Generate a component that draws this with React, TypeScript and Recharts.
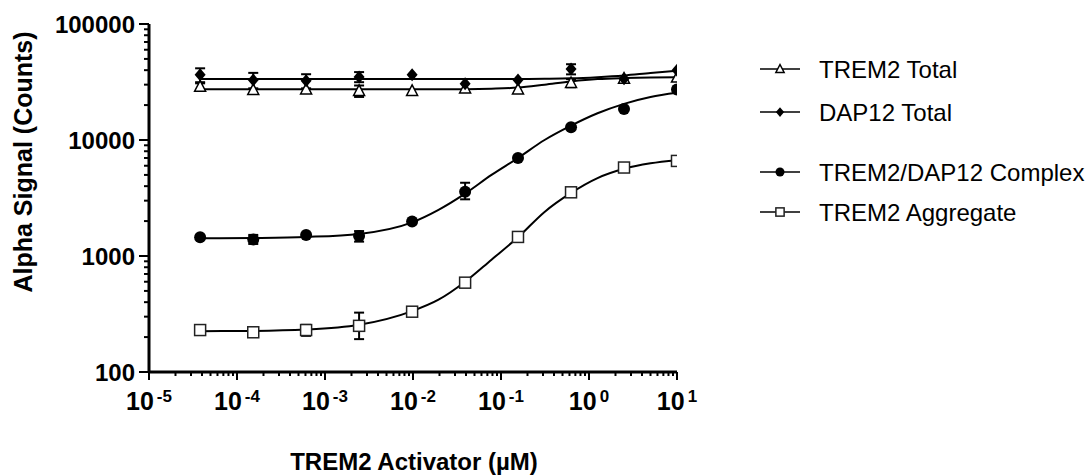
import React from 'react';
import { ComposedChart, Line, Scatter, XAxis, YAxis, ErrorBar, Label } from 'recharts';

// concentrations (µM), 4-fold dilution series
const conc = [0.0000381, 0.000153, 0.00061, 0.00244, 0.00977, 0.0391, 0.156, 0.625, 2.5, 10];

// measured points
const trem2Total = [28800, 27000, 27300, 26500, 26500, 27800, 27300, 31000, 33800, 34500];
const dap12Total = [36500, 32900, 32400, 35000, 36500, 30600, 32900, 40900, 33800, 40000];
const complex = [1450, 1390, 1520, 1490, 1980, 3580, 7000, 12900, 18500, 27300];
const aggregate = [230, 220, 230, 250, 331, 589, 1460, 3540, 5790, 6600];

// error bars [minus, plus], null = hidden behind marker
const trem2TotalErr: (number[] | null)[] = [[2000, 2000], null, null, [3000, 3000], null, null, null, [2500, 2500], null, null];
const dap12TotalErr: (number[] | null)[] = [[5000, 5000], [5000, 5000], [4500, 4500], [3500, 3500], null, null, null, [4100, 4100], null, null];
const complexErr: (number[] | null)[] = [null, [120, 130], null, [160, 150], null, [500, 700], null, null, null, null];
const aggregateErr: (number[] | null)[] = [null, null, [25, 25], [58, 75], null, null, null, null, null, null];

// fitted curves
const fitConc = [0.0000381, 0.000153, 0.00061, 0.00244, 0.00977, 0.0195, 0.0391, 0.078, 0.156, 0.3125, 0.625, 1.25, 2.5, 5, 10];
const trem2TotalFit = [27400, 27400, 27400, 27400, 27400, 27400, 27450, 27700, 28300, 30000, 32000, 33500, 34200, 34600, 34800];
const dap12TotalFit = [33500, 33500, 33500, 33500, 33500, 33500, 33500, 33500, 33550, 33700, 34000, 34800, 36000, 37800, 39500];
const complexFit = [1420, 1430, 1460, 1550, 1950, 2500, 3450, 5000, 7000, 10000, 13300, 17000, 20500, 23500, 25500];
const aggregateFit = [225, 226, 232, 255, 335, 420, 600, 930, 1450, 2400, 3500, 4700, 5650, 6300, 6700];

const xMajor = [1e-5, 1e-4, 1e-3, 1e-2, 1e-1, 1, 10];
const yMajor = [100, 1000, 10000, 100000];
const minorSteps = [2, 3, 4, 5, 6, 7, 8, 9];

const xTicks = [...xMajor, ...xMajor.slice(0, -1).flatMap((d) => minorSteps.map((m) => d * m))];
const yTicks = [...yMajor, ...yMajor.slice(0, -1).flatMap((d) => minorSteps.map((m) => d * m))];

const FONT = '"Liberation Sans", Arial, Helvetica, sans-serif';

const toPoints = (xs: number[], ys: number[], errs?: (number[] | null)[]) =>
  xs.map((x, i) => ({ x, y: ys[i], err: errs ? errs[i] : null }));

const isMajor = (v: number) => Math.abs(Math.log10(v) - Math.round(Math.log10(v))) < 1e-6;

const XTick = (props: any) => {
  const { x, y, payload } = props;
  const v = payload.value;
  const major = isMajor(v);
  return (
    <g>
      <line x1={x} x2={x} y1={y} y2={y + (major ? 8 : 4)} stroke="#000" strokeWidth={2} />
      {major && (
        <text x={x} y={y + 38} textAnchor="middle" fontFamily={FONT} fontWeight="bold" fontSize={25} fill="#000">
          10
          <tspan dx={3} dy={-8} fontSize={17}>{Math.round(Math.log10(v))}</tspan>
        </text>
      )}
    </g>
  );
};

const YTick = (props: any) => {
  const { x, y, payload } = props;
  const v = payload.value;
  const major = isMajor(v);
  return (
    <g>
      <line x1={x - (major ? 10 : 5)} x2={x} y1={y} y2={y} stroke="#000" strokeWidth={2} />
      {major && (
        <text x={x - 14} y={y} dy="0.36em" textAnchor="end" fontFamily={FONT} fontWeight="bold" fontSize={24} fill="#000">
          {v}
        </text>
      )}
    </g>
  );
};

const Triangle = ({ cx, cy, s = 1 }: any) => (
  <path
    d={`M${cx},${cy - 6 * s} L${cx + 5.5 * s},${cy + 4.5 * s} L${cx - 5.5 * s},${cy + 4.5 * s} Z`}
    fill="#fff"
    stroke="#000"
    strokeWidth={1.5}
  />
);
const Diamond = ({ cx, cy, s = 1 }: any) => (
  <path d={`M${cx},${cy - 6.5 * s} L${cx + 5.5 * s},${cy} L${cx},${cy + 6.5 * s} L${cx - 5.5 * s},${cy} Z`} fill="#000" />
);
const Dot = ({ cx, cy, s = 1 }: any) => <circle cx={cx} cy={cy} r={6 * s} fill="#000" />;
const Square = ({ cx, cy, s = 1 }: any) => (
  <rect x={cx - 5.5 * s} y={cy - 5.5 * s} width={11 * s} height={11 * s} fill="#fff" stroke="#222" strokeWidth={1.5} />
);

const series = [
  { name: 'TREM2 Total', pts: toPoints(conc, trem2Total, trem2TotalErr), fit: toPoints(fitConc, trem2TotalFit), Shape: Triangle, ly: 69 },
  { name: 'DAP12 Total', pts: toPoints(conc, dap12Total, dap12TotalErr), fit: toPoints(fitConc, dap12TotalFit), Shape: Diamond, ly: 112 },
  { name: 'TREM2/DAP12 Complex', pts: toPoints(conc, complex, complexErr), fit: toPoints(fitConc, complexFit), Shape: Dot, ly: 172 },
  { name: 'TREM2 Aggregate', pts: toPoints(conc, aggregate, aggregateErr), fit: toPoints(fitConc, aggregateFit), Shape: Square, ly: 212 },
];

const YTitle = () => (
  <text x={32} y={162} transform="rotate(-90 32 162)" textAnchor="middle" fontFamily={FONT} fontWeight="bold" fontSize={25} fill="#000">
    Alpha Signal (Counts)
  </text>
);

const XTitle = () => (
  <text x={414} y={470} textAnchor="middle" fontFamily={FONT} fontWeight="bold" fontSize={24} fill="#000">
    TREM2 Activator (µM)
  </text>
);

export default function App() {
  return (
    <div style={{ position: 'absolute', left: 0, top: 0, width: 1089, height: 476, background: '#fff' }}>
      <ComposedChart width={1089} height={476} margin={{ top: 24, right: 412, bottom: 0, left: 0 }}>
        <XAxis
          dataKey="x"
          type="number"
          scale="log"
          domain={[1e-5, 10]}
          allowDataOverflow
          ticks={xTicks}
          interval={0}
          height={104}
          tickSize={0}
          tickMargin={0}
          tickLine={false}
          tick={<XTick />}
          axisLine={{ stroke: '#000', strokeWidth: 3 }}
        >
          <Label content={<XTitle />} />
        </XAxis>
        <YAxis
          type="number"
          scale="log"
          domain={[100, 100000]}
          allowDataOverflow
          ticks={yTicks}
          interval={0}
          width={149}
          tickSize={0}
          tickMargin={0}
          tickLine={false}
          tick={<YTick />}
          axisLine={{ stroke: '#000', strokeWidth: 3 }}
        >
          <Label content={<YTitle />} />
        </YAxis>
        {series.map((s) => (
          <Line
            key={s.name + '-fit'}
            data={s.fit}
            dataKey="y"
            type="monotone"
            stroke="#000"
            strokeWidth={2}
            dot={false}
            activeDot={false}
            isAnimationActive={false}
            legendType="none"
          />
        ))}
        {series.map((s) => (
          <Scatter
            key={s.name}
            name={s.name}
            data={s.pts}
            dataKey="y"
            isAnimationActive={false}
            shape={(p: any) => <s.Shape cx={p.cx} cy={p.cy} />}
          >
            <ErrorBar dataKey="err" direction="y" width={5} stroke="#000" strokeWidth={2} />
          </Scatter>
        ))}
      </ComposedChart>
      <svg width={1089} height={476} style={{ position: 'absolute', left: 0, top: 0, pointerEvents: 'none' }}>
        {series.map((s) => (
          <g key={s.name}>
            <line x1={760} x2={800} y1={s.ly} y2={s.ly} stroke="#000" strokeWidth={1.5} />
            <s.Shape cx={780} cy={s.ly} s={0.75} />
            <text x={819} y={s.ly} dy="0.36em" fontFamily={FONT} fontSize={24} fill="#000">
              {s.name}
            </text>
          </g>
        ))}
      </svg>
    </div>
  );
}
